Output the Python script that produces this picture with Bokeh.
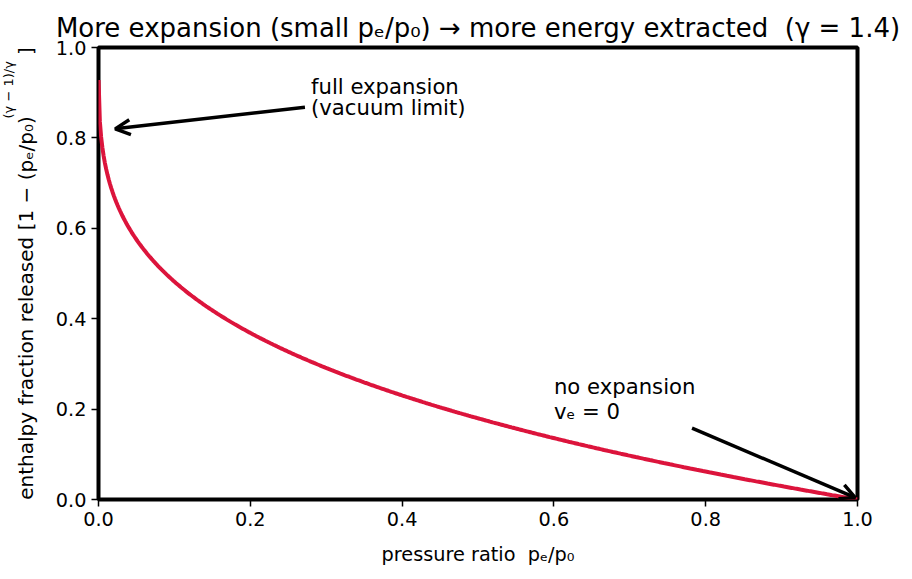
import numpy as np
from bokeh.plotting import figure
from bokeh.models import Range1d, Label, Arrow, OpenHead, FixedTicker, Title
from bokeh.embed import file_html
from bokeh.resources import INLINE

# Ratio of specific heats and the sampled pressure ratios
GAMMA = 1.4
pressure_ratio = np.linspace(1e-4, 1.0, 600)
enthalpy_fraction = 1.0 - pressure_ratio ** ((GAMMA - 1.0) / GAMMA)

x_ticks = [0.0, 0.2, 0.4, 0.6, 0.8, 1.0]
y_ticks = [0.0, 0.2, 0.4, 0.6, 0.8, 1.0]

# Annotation anchors (data coordinates)
vacuum_tip = (0.022, 0.82)
vacuum_tail = (0.272, 0.868)
vacuum_text = (0.280, 0.867)
still_tip = (0.997, 0.004)
still_tail = (0.782, 0.158)
still_text = (0.600, 0.195)

FONT = "DejaVu Sans"
TICK_PX = "19.3px"
NOTE_PX = "21.2px"
NBSP = "\u00a0"
THIN = "\u2009"

p = figure(
    width=912, height=579,
    x_range=Range1d(0, 1), y_range=Range1d(0, 1),
    output_backend="svg", toolbar_location=None,
    min_border_left=98, min_border_right=55,
    min_border_top=47, min_border_bottom=80,
    background_fill_color="white", border_fill_color="white",
)
p.title = Title(
    text="More expansion (small pₑ/p₀) → more energy extracted " + NBSP + "(γ = 1.4)",
    align="center", text_font=FONT, text_font_size="26px",
    text_font_style="normal", text_color="black", offset=0,
)

p.grid.visible = False
p.outline_line_color = "black"
p.outline_line_width = 4

for ax in (p.xaxis[0], p.yaxis[0]):
    ax.axis_line_color = None
    ax.minor_tick_line_color = None
    ax.major_tick_line_color = "black"
    ax.major_tick_line_width = 1.5
    ax.major_tick_out = 7
    ax.major_tick_in = 0
    ax.major_label_text_font = FONT
    ax.major_label_text_font_size = TICK_PX
    ax.major_label_text_color = "black"
    ax.major_label_standoff = 5

p.xaxis.ticker = FixedTicker(ticks=x_ticks)
p.yaxis.ticker = FixedTicker(ticks=y_ticks)
p.xaxis.major_label_overrides = {t: f"{t:.1f}" for t in x_ticks}
p.yaxis.major_label_overrides = {t: f"{t:.1f}" for t in y_ticks}

p.xaxis.axis_label = "pressure ratio " + NBSP + "pₑ/p₀"
p.xaxis.axis_label_text_font = FONT
p.xaxis.axis_label_text_font_size = TICK_PX
p.xaxis.axis_label_text_font_style = "normal"
p.xaxis.axis_label_text_color = "black"
p.xaxis.axis_label_standoff = 14

# y-axis label: the base text leaves a gap that the raised exponent fills
p.yaxis.axis_label = ("enthalpy fraction released [1 − (pₑ/p₀)"
                      + NBSP * 9 + THIN + "]")
p.yaxis.axis_label_text_font = FONT
p.yaxis.axis_label_text_font_size = "20px"
p.yaxis.axis_label_text_font_style = "normal"
p.yaxis.axis_label_text_color = "black"
p.yaxis.axis_label_standoff = 15

p.add_layout(Title(
    text="(γ − 1)/γ", align="left", offset=381, standoff=-10,
    text_font=FONT, text_font_size="13px", text_font_style="normal",
    text_color="black",
), "left")

p.line(pressure_ratio, enthalpy_fraction, line_color="crimson", line_width=4)

arrow_head = dict(size=15, line_color="black", line_width=3.5)
p.add_layout(Arrow(
    end=OpenHead(**arrow_head),
    x_start=vacuum_tail[0], y_start=vacuum_tail[1],
    x_end=vacuum_tip[0], y_end=vacuum_tip[1],
    line_color="black", line_width=3.5,
))
p.add_layout(Arrow(
    end=OpenHead(**arrow_head),
    x_start=still_tail[0], y_start=still_tail[1],
    x_end=still_tip[0], y_end=still_tip[1],
    line_color="black", line_width=3.5,
))

note_style = dict(text_font=FONT, text_font_size=NOTE_PX, text_color="black",
                  text_align="left", text_baseline="alphabetic")
p.add_layout(Label(x=vacuum_text[0], y=vacuum_text[1] + 0.0465,
                   text="full expansion", **note_style))
p.add_layout(Label(x=vacuum_text[0], y=vacuum_text[1],
                   text="(vacuum limit)", **note_style))
p.add_layout(Label(x=still_text[0], y=still_text[1] + 0.055,
                   text="no expansion", **note_style))
p.add_layout(Label(x=still_text[0], y=still_text[1],
                   text="vₑ = 0", **note_style))

open("out.html", "w").write(file_html(p, INLINE))
